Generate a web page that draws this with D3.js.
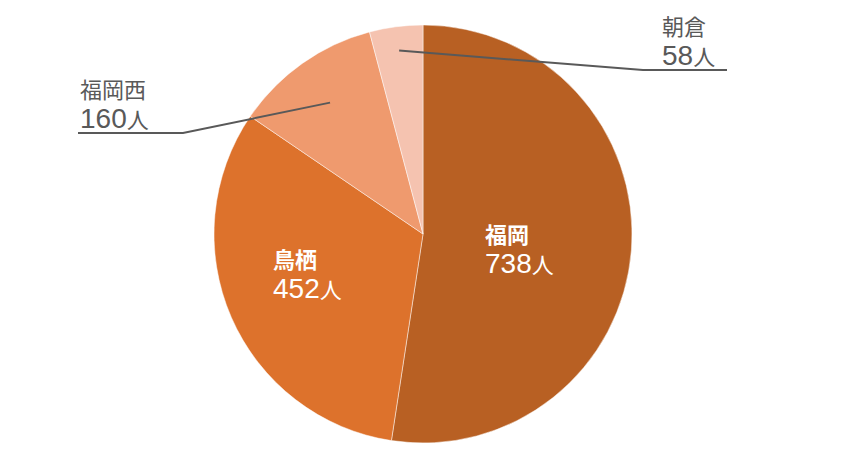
<!DOCTYPE html>
<html>
<head>
<meta charset="utf-8">
<script src="https://cdn.jsdelivr.net/npm/d3@7"></script>
<style>
  html, body { margin: 0; padding: 0; background: #fff; }
</style>
</head>
<body>
<div id="chart"></div>
<script>
// Data
const categories = ['福岡', '鳥栖', '福岡西', '朝倉'];
const counts = [738, 452, 160, 58];
const unit = '人';
const colors = ['#B86023', '#DD722C', '#EF9A6E', '#F5C3B0'];

// Frame
const width = 848;
const height = 468;
const cx = 423;
const cy = 234;
const radius = 209;

// Label placement (inside labels white, outside labels with leader lines)
const labelLayout = [
    { inside: true, x: 485, y: 243 },
    { inside: true, x: 273, y: 268 },
    { inside: false, x: 80, y: 98, leaderR: 0.77, elbowX: 183, endX: 78 },
    { inside: false, x: 662, y: 35, leaderR: 0.885, elbowX: 643, endX: 727 }
];

const svg = d3
    .select('#chart')
    .append('svg')
    .attr('width', width)
    .attr('height', height);

const graph = svg.append('g').attr('transform', `translate(${cx}, ${cy})`);

const slices = categories.map((name, i) => ({ name: name, value: counts[i], i: i }));

const pie = d3.pie().sort(null).value((d) => d.value);
const arc = d3.arc().innerRadius(0).outerRadius(radius);
const arcs = pie(slices);

// Slices
graph
    .selectAll('path')
    .data(arcs)
    .enter()
    .append('path')
    .attr('d', arc)
    .attr('fill', (d) => colors[d.data.i])
    .attr('stroke', '#ffffff')
    .attr('stroke-opacity', 0.6)
    .attr('stroke-width', 0.8);

// Leader lines for outside labels
arcs.forEach((d) => {
    const lay = labelLayout[d.data.i];
    if (lay.inside) return;
    const mid = (d.startAngle + d.endAngle) / 2;
    const r = radius * lay.leaderR;
    const sx = Math.sin(mid) * r;
    const sy = -Math.cos(mid) * r;
    const lineY = lay.y + 35 - cy;
    graph
        .append('polyline')
        .attr('points', `${sx},${sy} ${lay.elbowX - cx},${lineY} ${lay.endX - cx},${lineY}`)
        .attr('fill', 'none')
        .attr('stroke', '#595959')
        .attr('stroke-width', 2);
});

// Write a text line mixing digits and kanji runs
function writeLine(parent, str, x, y, color, bold) {
    const t = parent
        .append('text')
        .attr('x', x)
        .attr('y', y)
        .attr('fill', color);
    const runs = str.match(/[0-9]+|[^0-9]+/g);
    runs.forEach((run) => {
        const isDigit = /^[0-9]+$/.test(run);
        t.append('tspan')
            .style('font-family', isDigit ? "'Liberation Sans', sans-serif" : "'Noto Sans CJK JP', sans-serif")
            .style('font-size', isDigit ? '28px' : '22px')
            .style('font-weight', bold && !isDigit ? 'bold' : 'normal')
            .text(run);
    });
}

arcs.forEach((d) => {
    const lay = labelLayout[d.data.i];
    const color = lay.inside ? '#ffffff' : '#595959';
    writeLine(svg, d.data.name, lay.x, lay.y, color, lay.inside);
    writeLine(svg, d.data.value + unit, lay.x, lay.y + 30, color, false);
});
</script>
</body>
</html>
